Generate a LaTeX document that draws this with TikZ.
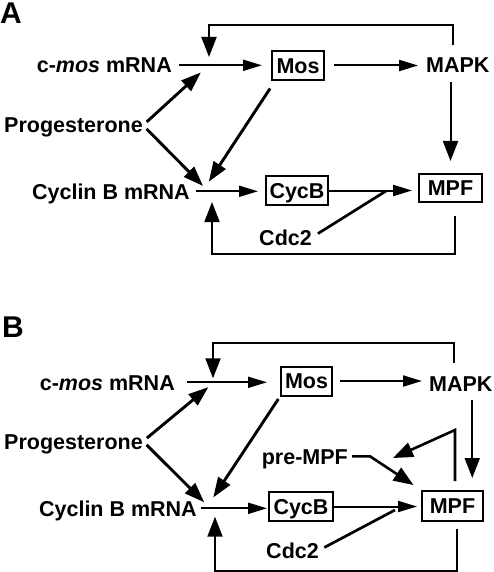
\documentclass[tikz,border=0pt]{standalone}
\usepackage{fontspec}
\setmainfont{Liberation Sans}
\usetikzlibrary{arrows.meta}
\begin{document}
\begin{tikzpicture}[x=1pt, y=-1pt]
        \tikzstyle{txt}=[inner sep=0, text height=15.4pt, text depth=0pt, font=\fontsize{21.5}{24}\selectfont\bfseries];
        \tikzstyle{panel}=[txt, text height=21.5pt, font=\fontsize{30}{32}\selectfont\bfseries];
        \tikzstyle{box}=[txt, draw, line width=2pt, minimum height=29pt];
        \tikzstyle{harr}=[line width=2pt, -{Triangle[length=19pt, width=11pt]}];
        \tikzstyle{darr}=[line width=2.9pt, -{Triangle[length=20pt, width=14pt]}];
        \tikzstyle{back}=[line width=2pt, -{Triangle[length=20pt, width=15pt]}];
        \useasboundingbox (0,0) rectangle (493,572);
        \scoped{
                \node[panel, anchor=base west] (labA) at (0,24) {A};
                \node[txt, anchor=base east] (cmosA) at (172,73) {c-\textit{mos} mRNA};
                \node[box, minimum width=52pt] (mosA) at (298,65.5) {Mos};
                \node[txt, anchor=base west] (mapkA) at (426,73) {MAPK};
                \node[txt, anchor=base east] (progA) at (143,133) {Progesterone};
                \node[txt, anchor=base east] (cycA) at (190,199) {Cyclin B mRNA};
                \node[box, minimum width=62pt] (cycbA) at (297,190.5) {CycB};
                \node[box, minimum width=63pt, minimum height=28pt] (mpfA) at (450.5,188) {MPF};
                \node[txt, anchor=base east] (cdcA) at (312,245) {Cdc2};
                \coordinate (upA) at (209,65);
                \coordinate (loA) at (209,192);
                \coordinate (mgA) at (386,191);
            };
            \draw[harr, shorten <=7pt, shorten >=9pt] (cmosA.east) -- (cmosA.east -| mosA.west);
            \draw[harr, shorten <=9pt, shorten >=8pt] (mosA.east) -- (mosA.east -| mapkA.west);
            \draw[back, shorten <=9pt, shorten >=12pt] (mpfA.north |- mapkA.south) -- (mpfA.north);
            \draw[back, shorten <=12.6pt, shorten >=8pt] ([xshift=-4.5]mapkA.north) -- ++(0,-32.6) -| (upA);
            \draw[darr, shorten <=5pt, shorten >=11pt] (progA.east) -- (upA);
            \draw[darr, shorten <=5pt, shorten >=8.5pt] (progA.east) -- (loA);
            \draw[darr, shorten <=9pt, shorten >=12.3pt] ([xshift=4]mosA.south west) -- ([xshift=-7]loA);
            \draw[harr, shorten <=6pt, shorten >=7pt] (cycA.east) -- (cycA.east -| cycbA.west);
            \draw[harr, shorten >=6pt] (cycbA.east) -- (cycbA.east -| mpfA.west);
            \draw[line width=2.7pt, shorten <=7pt] (cdcA.east) -- (mgA);
            \draw[back, shorten <=13pt, shorten >=10pt] ([xshift=4.5]mpfA.south) -- ++(0,51) -| ([xshift=3]loA);

        \scoped{
                \node[panel, anchor=base west] (labB) at (2,337) {B};
                \node[txt, anchor=base east] (cmosB) at (175,390) {c-\textit{mos} mRNA};
                \node[box, minimum width=51pt] (mosB) at (306.5,381) {Mos};
                \node[txt, anchor=base west] (mapkB) at (429,391) {MAPK};
                \node[txt, anchor=base east] (progB) at (143,449) {Progesterone};
                \node[txt, anchor=base east] (premB) at (348,464) {pre-MPF};
                \node[txt, anchor=base east] (cycB) at (197,516) {Cyclin B mRNA};
                \node[box, minimum width=64pt] (cycbB) at (301,506.5) {CycB};
                \node[box, minimum width=61pt, minimum height=30pt] (mpfB) at (452.5,506) {MPF};
                \node[txt, anchor=base east] (cdcB) at (319,558) {Cdc2};
                \coordinate (upB) at (213,383.3);
                \coordinate (loB) at (212,510);
                \coordinate (mgB) at (395,510);
                \coordinate (pmB) at (393,458);
            };
            \draw[harr, shorten <=12pt, shorten >=13pt] (cmosB.east) -- (cmosB.east -| mosB.west);
            \draw[harr, shorten <=7pt, shorten >=7pt] (mosB.east) -- (mosB.east -| mapkB.west);
            \draw[back, shorten <=9pt, shorten >=12pt] ([xshift=11.4]mapkB.south) -- ([xshift=11.4]mapkB.south |- mpfB.north);
            \draw[back, shorten <=12.6pt, shorten >=5pt] ([xshift=-6.6]mapkB.north) -- ++(0,-32.6) -| (upB);
            \draw[darr, shorten <=5pt, shorten >=6pt] (progB.east) -- (upB);
            \draw[darr, shorten <=5pt, shorten >=11pt] (progB.east) -- (loB);
            \draw[darr, shorten <=3pt, shorten >=15pt] (mosB.south west) -- ([xshift=-7]loB);
            \draw[back, line width=2.6pt, shorten <=9pt] ([xshift=2.5]mpfB.north) -- ++(0,-60) -- (pmB);
            \draw[back, line width=2.6pt, shorten <=4pt, shorten >=9pt] (premB.east) -- ++(22,0) -- (mpfB.north west);
            \draw[harr, shorten <=4pt, shorten >=1pt] (cycB.east) -- (cycB.east -| cycbB.west);
            \draw[harr, shorten >=4pt] (cycbB.east) -- (cycbB.east -| mpfB.west);
            \draw[line width=2.7pt, shorten <=6pt] (cdcB.east) -- (mgB);
            \draw[back, shorten <=7pt, shorten >=6.7pt] ([xshift=4.5]mpfB.south) -- ++(0,49) -| ([xshift=3]loB);
    \end{tikzpicture}
\end{document}
